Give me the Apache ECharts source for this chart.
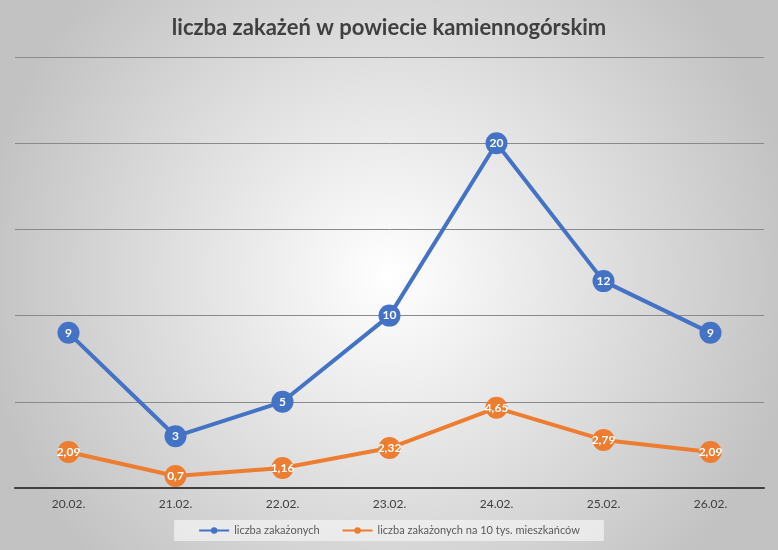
<!DOCTYPE html>
<html>
<head>
<meta charset="utf-8">
<script src="https://cdn.jsdelivr.net/npm/echarts@6/dist/echarts.min.js"></script>
<style>
  html, body { margin: 0; padding: 0; }
  #chart { width: 778px; height: 550px; }
</style>
</head>
<body>
<div id="chart"></div>
<script>
const days = ['20.02.', '21.02.', '22.02.', '23.02.', '24.02.', '25.02.', '26.02.']
const infected = [9, 3, 5, 10, 20, 12, 9]
const per10k = [2.09, 0.7, 1.16, 2.32, 4.65, 2.79, 2.09]
const seriesNames = ['liczba zakażonych', 'liczba zakażonych na 10 tys. mieszkańców']

const fmt = (v) => String(v).replace('.', ',')

const lineSeries = (name, data, color) => ({
  name: name,
  type: 'line',
  data: data,
  symbol: 'circle',
  symbolSize: 22,
  lineStyle: { color: color, width: 4 },
  itemStyle: { color: color },
  label: {
    show: true,
    position: 'inside',
    color: '#fff',
    fontFamily: 'Lato',
    fontSize: 12,
    fontWeight: 'bold',
    formatter: (p) => fmt(p.value)
  },
  z: 3
})

const chart = echarts.init(document.getElementById('chart'))
chart.setOption({
  animation: false,
  backgroundColor: {
    type: 'radial',
    x: 0.5, y: 0.5, r: 0.75,
    colorStops: [
      { offset: 0, color: '#ffffff' },
      { offset: 1, color: '#c2c2c2' }
    ]
  },
  title: {
    text: 'liczba zakażeń w powiecie kamiennogórskim',
    left: 'center',
    top: 12,
    textStyle: { fontFamily: 'Lato', fontSize: 22, fontWeight: 'bold', color: '#404040' }
  },
  legend: {
    bottom: 9,
    left: 'center',
    itemWidth: 30,
    itemHeight: 8,
    itemGap: 22,
    padding: [5, 24],
    backgroundColor: 'rgba(240,240,240,0.8)',
    textStyle: { fontFamily: 'Lato', fontSize: 11, color: '#595959' },
    data: seriesNames
  },
  grid: { left: 15, right: 14, top: 57, bottom: 62 },
  xAxis: {
    type: 'category',
    data: days,
    axisLine: { lineStyle: { color: '#404040', width: 2 } },
    axisTick: { show: false },
    axisLabel: { fontFamily: 'Lato', fontSize: 12, color: '#404040', margin: 10 }
  },
  yAxis: {
    type: 'value',
    min: 0,
    max: 25,
    interval: 5,
    axisLabel: { show: false },
    axisLine: { show: false },
    axisTick: { show: false },
    splitLine: { lineStyle: { color: '#8a8a8a', width: 1 } }
  },
  series: [
    lineSeries(seriesNames[0], infected, '#4472c4'),
    lineSeries(seriesNames[1], per10k, '#ed7d31')
  ]
})
</script>
</body>
</html>
